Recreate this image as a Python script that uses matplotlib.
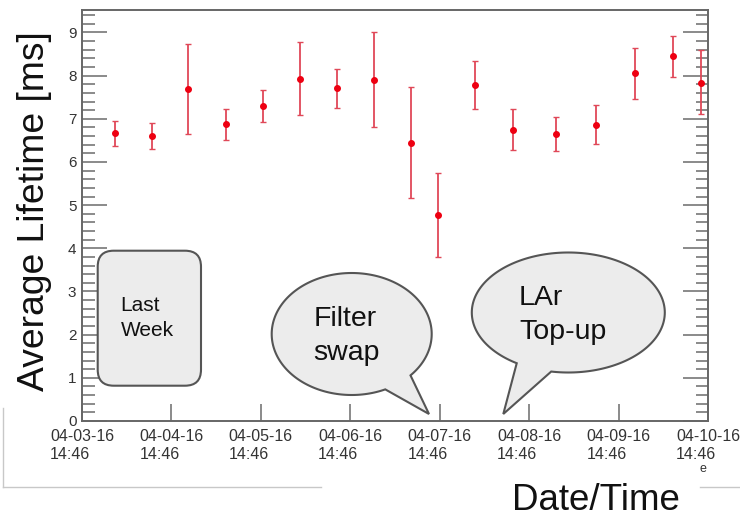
import numpy as np
import matplotlib
matplotlib.use("Agg")
import matplotlib.pyplot as plt
from matplotlib.patches import FancyBboxPatch, PathPatch
from matplotlib.path import Path
from matplotlib.lines import Line2D
from matplotlib.ticker import MultipleLocator, FixedLocator
import matplotlib.transforms as mtransforms

plt.rcParams['font.family'] = ['Liberation Sans', 'DejaVu Sans']

# ---- data (x in days since 04-03-16 14:46) ----
days = [0.369, 0.779, 1.189, 1.610, 2.024, 2.438, 2.851, 3.268, 3.682,
        3.977, 4.391, 4.820, 5.300, 5.748, 6.184, 6.605, 6.921]
lifetime = [6.67, 6.61, 7.68, 6.88, 7.30, 7.93, 7.71, 7.91, 6.44,
            4.77, 7.79, 6.75, 6.65, 6.86, 8.06, 8.45, 7.84]
err_upper = [6.95, 6.91, 8.73, 7.23, 7.67, 8.78, 8.16, 9.00, 7.74,
             5.75, 8.34, 7.23, 7.04, 7.31, 8.65, 8.91, 8.59]
err_lower = [6.37, 6.31, 6.64, 6.52, 6.93, 7.08, 7.25, 6.81, 5.16,
             3.80, 7.23, 6.27, 6.25, 6.41, 7.47, 7.96, 7.11]
tick_days = [0, 1, 2, 3, 4, 5, 6, 7]
tick_labels = ["04-03-16\n14:46", "04-04-16\n14:46", "04-05-16\n14:46",
               "04-06-16\n14:46", "04-07-16\n14:46", "04-08-16\n14:46",
               "04-09-16\n14:46", "04-10-16\n14:46"]

W, H = 740, 520
fig = plt.figure(figsize=(W / 100, H / 100), dpi=100)
ax = fig.add_axes([82 / W, 1 - 421 / H, (708 - 82) / W, (421 - 10) / H])

lo = np.array(lifetime) - np.array(err_lower)
hi = np.array(err_upper) - np.array(lifetime)
ax.errorbar(days, lifetime, yerr=[lo, hi], fmt='none', ecolor='#e04858',
            elinewidth=1.3, capsize=2.5, capthick=1.0, zorder=2)
ax.plot(days, lifetime, 'o', color='#ee0011', markersize=4, zorder=3)

ax.set_xlim(0, 7)
ax.set_ylim(0, 9.52)

spine_c = '#666666'
for s in ax.spines.values():
    s.set_color(spine_c)
    s.set_linewidth(1.4)

ax.xaxis.set_major_locator(FixedLocator(tick_days))
ax.set_xticklabels(tick_labels)
ax.yaxis.set_major_locator(MultipleLocator(1))
ax.yaxis.set_minor_locator(MultipleLocator(0.2))
ax.tick_params(axis='x', which='major', direction='in', length=12, width=1.2,
               color='#777777', labelsize=11.5, labelcolor='#333333', pad=6)
ax.tick_params(axis='x', which='minor', length=0)
ax.tick_params(axis='y', which='major', direction='in', length=18, width=1.2,
               color='#777777', labelsize=11, labelcolor='#333333', pad=4,
               right=True)
ax.tick_params(axis='y', which='minor', direction='in', length=9, width=1.2,
               color='#777777', right=True)
for lbl in ax.get_xticklabels():
    lbl.set_horizontalalignment('center')
    lbl.set_multialignment('left')
    lbl.set_linespacing(1.25)
# the "0" label sits just above the date labels
ax.get_yticklabels()[0].set_verticalalignment('bottom')

# pixel transform (y down)
pix = mtransforms.Affine2D().scale(1 / W, -1 / H).translate(0, 1) + fig.transFigure

fill_c = '#ececec'
edge_c = '#555555'

# Rounded box "Last Week"
box = FancyBboxPatch((97.7, 250.7), 103.3, 135,
                     boxstyle="round,pad=0,rounding_size=16",
                     transform=pix, facecolor=fill_c, edgecolor=edge_c,
                     linewidth=1.5, zorder=4)
fig.add_artist(box)
fig.text(120.7 / W, 1 - 296 / H, "Last\nWeek", fontsize=15, ha='left',
         va='top', linespacing=1.42, color='#111111', zorder=5)


def bubble(cx, cy, a, b, t0, t1, tip):
    th = np.radians(np.linspace(t0, t1, 200))
    pts = np.column_stack([cx + a * np.cos(th), cy + b * np.sin(th)])
    pts = np.vstack([pts, tip, pts[0]])
    codes = [Path.MOVETO] + [Path.LINETO] * (len(pts) - 2) + [Path.CLOSEPOLY]
    return PathPatch(Path(pts, codes), transform=pix, facecolor=fill_c,
                     edgecolor=edge_c, linewidth=1.5, zorder=4)


fig.add_artist(bubble(351.7, 334, 80, 61, 65.2, 402.7, (429, 414)))
fig.text(313.3 / W, 1 - 306 / H, "Filter\nswap", fontsize=20.5, ha='left',
         va='top', linespacing=1.4, color='#111111', zorder=5)

fig.add_artist(bubble(568.3, 312.5, 96.5, 60, 122.3, 460.2, (503.3, 414)))
fig.text(519 / W, 1 - 285 / H, "LAr\nTop-up", fontsize=20.5, ha='left',
         va='top', linespacing=1.4, color='#111111', zorder=5)

# axis titles
fig.text(35 / W, 1 - 211 / H, "Average Lifetime [ms]", fontsize=26.8,
         rotation=90, ha='center', va='center', color='#111111')
fig.text(596 / W, 1 - 501 / H, "Date/Time", fontsize=26.5, ha='center',
         va='center', color='#111111')
fig.text(703 / W, 1 - 469 / H, "e", fontsize=9, ha='center', va='center',
         color='#333333')

# faint frame lines of the original screenshot
for xs, ys in [((3, 3), (408, 487)), ((3, 321), (487, 487)),
               ((700, 740), (487, 487))]:
    fig.add_artist(Line2D(xs, ys, transform=pix, color='#c8c8c8', linewidth=1.0))

fig.savefig("out.png", dpi=100)
